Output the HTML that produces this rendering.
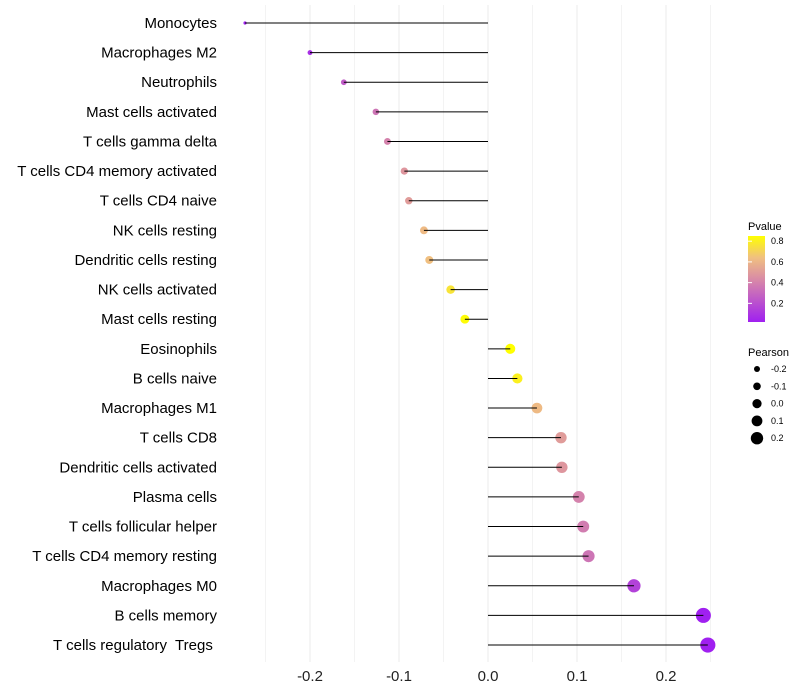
<!DOCTYPE html>
<html><head><meta charset="utf-8"><style>
body{margin:0;background:#fff;font-family:"Liberation Sans",sans-serif}
svg{display:block}
text{white-space:pre}
</style></head><body>
<svg id="chart" width="800" height="700">
<g id="grid"></g>
<g id="plot"></g>
<g id="ylab"></g>
<g id="xlab"></g>
<g id="legend">
<defs><linearGradient id="pg" x1="0" y1="1" x2="0" y2="0">
<stop offset="0" stop-color="#A020F0"/><stop offset="0.5" stop-color="#D98BA6"/><stop offset="0.75" stop-color="#F0C080"/><stop offset="1" stop-color="#FFFF00"/></linearGradient></defs>
<text x="748" y="230" font-size="11">Pvalue</text>
<rect x="748" y="236" width="17" height="86" fill="url(#pg)"/>
<text x="748" y="356" font-size="11">Pearson</text>
</g>
</svg>
<script>
const categories=["Monocytes","Macrophages M2","Neutrophils","Mast cells activated","T cells gamma delta","T cells CD4 memory activated","T cells CD4 naive","NK cells resting","Dendritic cells resting","NK cells activated","Mast cells resting","Eosinophils","B cells naive","Macrophages M1","T cells CD8","Dendritic cells activated","Plasma cells","T cells follicular helper","T cells CD4 memory resting","Macrophages M0","B cells memory","T cells regulatory  Tregs "];
const pearson=[-0.273,-0.2,-0.162,-0.126,-0.113,-0.094,-0.089,-0.072,-0.066,-0.042,-0.026,0.025,0.033,0.055,0.082,0.083,0.102,0.107,0.113,0.164,0.242,0.247];
const pvalue=[0.02,0.08,0.25,0.35,0.4,0.48,0.5,0.62,0.64,0.76,0.84,0.85,0.8,0.62,0.5,0.48,0.4,0.38,0.35,0.15,0.02,0.02];
const xTicks=[-0.2,-0.1,0.0,0.1,0.2];
const xTickLabels=["-0.2","-0.1","0.0","0.1","0.2"];
const colorTicks=[0.2,0.4,0.6,0.8];
const sizeTicks=[-0.2,-0.1,0.0,0.1,0.2];
const NS="http://www.w3.org/2000/svg";
const X=v=>488+v*890;
const Y=i=>23+i*29.62;
const R=v=>1.6+(v+0.273)*11.5;
const pMin=0.02,pMax=0.85;
const stops=[[0,[160,32,240]],[0.5,[217,139,166]],[0.75,[240,192,128]],[1,[255,255,0]]];
function col(p){let t=Math.max(0,Math.min(1,(p-pMin)/(pMax-pMin)));for(let k=1;k<stops.length;k++){if(t<=stops[k][0]){const a=stops[k-1],b=stops[k];const u=(t-a[0])/(b[0]-a[0]);return"rgb("+a[1].map((c,j)=>Math.round(c+(b[1][j]-c)*u)).join(",")+")";}}return"rgb(255,255,0)";}
function mk(t,a,p){const e=document.createElementNS(NS,t);for(const k in a)e.setAttribute(k,a[k]);p.appendChild(e);return e;}
const grid=document.getElementById('grid'),plot=document.getElementById('plot'),ylab=document.getElementById('ylab'),xlab=document.getElementById('xlab'),leg=document.getElementById('legend');
for(let v=-0.25;v<=0.251;v+=0.05){const g=mk('line',{x1:X(v),x2:X(v),y1:5,y2:662,stroke:'#ebebeb','stroke-width':Math.abs(Math.round(v*20))%2==0?1:0.6},grid);

}
categories.forEach((c,i)=>{
const p=mk('circle',{cx:X(pearson[i]),cy:Y(i),r:R(pearson[i]),fill:col(pvalue[i])},plot);


const l=mk('line',{x1:X(0),x2:X(pearson[i]),y1:Y(i),y2:Y(i),stroke:'#000','stroke-width':1},plot);


const t=mk('text',{x:217,y:Y(i)+5,'text-anchor':'end','font-size':15,fill:'#000'},ylab);t.textContent=c;


});
xTicks.forEach((v,i)=>{const t=mk('text',{x:X(v),y:681,'text-anchor':'middle','font-size':15,fill:'#222'},xlab);t.textContent=xTickLabels[i];

});
colorTicks.forEach(v=>{const y=322-(v-pMin)/(pMax-pMin)*86;
const tk=mk('line',{x1:748,x2:752,y1:y,y2:y,stroke:'#fff'},leg);


const t=mk('text',{x:771,y:y+3,'font-size':9},leg);t.textContent=v.toFixed(1);

});
sizeTicks.forEach((v,i)=>{const y=369+i*17.3;
const c=mk('circle',{cx:757,cy:y,r:3+i*0.8,fill:'#000'},leg);


const t=mk('text',{x:771,y:y+3,'font-size':9},leg);t.textContent=v.toFixed(1);

});
</script>
</body></html>
